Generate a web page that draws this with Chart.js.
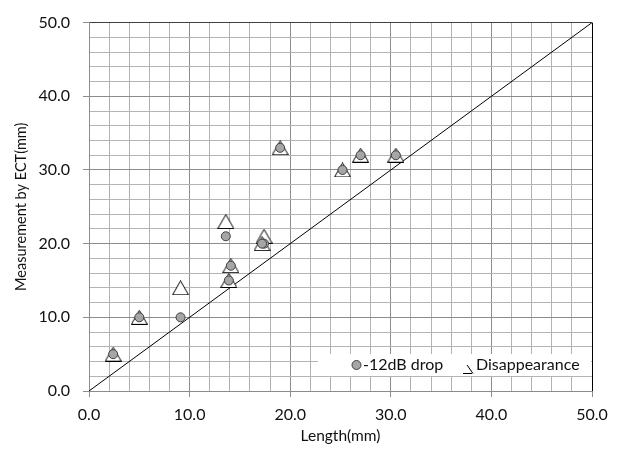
<!DOCTYPE html>
<html lang="en">

<head>
    <meta charset="UTF-8">
    <title>Measurement by ECT vs Length</title>
    <script src="https://cdn.jsdelivr.net/npm/chart.js"></script>
    <style>
        html, body {
            margin: 0;
            padding: 0;
            background: #ffffff;
        }

        canvas {
            display: block;
        }
    </style>
</head>

<body>

    <canvas id="ectChart" width="622" height="457"></canvas>

    <script>
        // crack lengths (mm) and the two ECT sizing results
        const lengths = [2.4, 5.0, 9.1, 13.6, 14.1, 13.9, 17.4, 17.2, 19.0, 25.2, 27.0, 30.5];
        const drop12dB = [5, 10, 10, 21, 17, 15, 20, 20, 33, 30, 32, 32];
        const disappearance = [5, 10, 14, 23, 17, 15, 21, 20, 33, 30, 32, 32];
        const seriesNames = ['-12dB drop', 'Disappearance'];
        const axisTicks = [0, 10, 20, 30, 40, 50];
        const diagonal = [0, 50];

        const FONT = 'Lato, "Open Sans", sans-serif';

        // Excel-like triangle marker, centred on its box
        function makeTriangle(w, h) {
            const c = document.createElement('canvas');
            c.width = w;
            c.height = h;
            const g = c.getContext('2d');
            g.beginPath();
            g.moveTo(w / 2, 0.5);
            g.lineTo(w - 0.5, h - 0.5);
            g.lineTo(0.5, h - 0.5);
            g.closePath();
            g.fillStyle = '#ffffff';
            g.fill();
            g.strokeStyle = '#000000';
            g.lineWidth = 1;
            g.stroke();
            return c;
        }
        const triangle = makeTriangle(17, 15);

        const isMajor = v => axisTicks.includes(v);

        // legend box sitting inside the plot, bottom right
        const insideLegend = {
            id: 'insideLegend',
            afterDraw(chart) {
                const g = chart.ctx;
                g.save();
                g.fillStyle = '#ffffff';
                g.fillRect(318, 354, 273, 22);
                // circle marker
                g.beginPath();
                g.arc(356.5, 365, 4.5, 0, Math.PI * 2);
                g.fillStyle = '#a6a6a6';
                g.fill();
                g.strokeStyle = '#404040';
                g.lineWidth = 1;
                g.stroke();
                g.font = '16px ' + FONT;
                g.fillStyle = '#111111';
                g.textBaseline = 'middle';
                g.fillText(seriesNames[0], 363, 365);
                // clipped triangle glyph as Excel draws it
                g.beginPath();
                g.moveTo(463, 373.5);
                g.lineTo(472, 373.5);
                g.moveTo(467, 365);
                g.lineTo(473, 373.5);
                g.strokeStyle = '#000000';
                g.stroke();
                g.fillText(seriesNames[1], 476, 365);
                g.restore();
            }
        };

        const ctx = document.getElementById('ectChart').getContext('2d');
        const ectChart = new Chart(ctx, {
            type: 'scatter',
            data: {
                datasets: [{
                    label: seriesNames[0],
                    data: lengths.map((x, i) => ({ x: x, y: drop12dB[i] })),
                    pointStyle: 'circle',
                    pointRadius: 4.5,
                    pointBackgroundColor: '#a6a6a6',
                    pointBorderColor: '#404040',
                    pointBorderWidth: 1
                }, {
                    label: seriesNames[1],
                    data: lengths.map((x, i) => ({ x: x, y: disappearance[i] })),
                    pointStyle: triangle,
                    pointRadius: 8
                }, {
                    label: 'y = x',
                    data: diagonal.map(v => ({ x: v, y: v })),
                    showLine: true,
                    borderColor: '#000000',
                    borderWidth: 1,
                    pointRadius: 0
                }]
            },
            options: {
                responsive: false,
                animation: false,
                events: [],
                layout: {
                    padding: { left: 0, right: 30, top: 14, bottom: 0 }
                },
                plugins: {
                    legend: { display: false },
                    tooltip: { enabled: false }
                },
                scales: {
                    x: {
                        type: 'linear',
                        min: 0,
                        max: 50,
                        afterFit: s => { s.height = 66; },
                        ticks: {
                            stepSize: 2,
                            autoSkip: false,
                            maxRotation: 0,
                            padding: 8,
                            color: '#111111',
                            font: { family: FONT, size: 16 },
                            callback: v => isMajor(v) ? v.toFixed(1) : ''
                        },
                        grid: {
                            color: c => c.tick.value === 50 ? '#000000' : (isMajor(c.tick.value) ? '#8c8c8c' : '#b3b3b3'),
                            tickColor: c => isMajor(c.tick.value) ? '#8c8c8c' : 'rgba(0,0,0,0)',
                            tickLength: 6
                        },
                        border: { color: '#8c8c8c' },
                        title: {
                            display: true,
                            text: 'Length(mm)',
                            color: '#111111',
                            font: { family: FONT, size: 15.5 },
                            padding: { top: 0, bottom: 12 }
                        }
                    },
                    y: {
                        type: 'linear',
                        min: 0,
                        max: 50,
                        afterFit: s => { s.width = 89; },
                        ticks: {
                            stepSize: 2,
                            autoSkip: false,
                            padding: 13,
                            color: '#111111',
                            font: { family: FONT, size: 16 },
                            callback: v => isMajor(v) ? v.toFixed(1) : ''
                        },
                        grid: {
                            color: c => c.tick.value === 50 ? '#404040' : (isMajor(c.tick.value) ? '#8c8c8c' : '#b3b3b3'),
                            tickColor: c => isMajor(c.tick.value) ? '#8c8c8c' : 'rgba(0,0,0,0)',
                            tickLength: 6
                        },
                        border: { color: '#8c8c8c' },
                        title: {
                            display: true,
                            text: 'Measurement by ECT(mm)',
                            color: '#111111',
                            font: { family: FONT, size: 14.5 },
                            padding: { top: 13, bottom: 0 }
                        }
                    }
                }
            },
            plugins: [insideLegend]
        });
    </script>
</body>

</html>
